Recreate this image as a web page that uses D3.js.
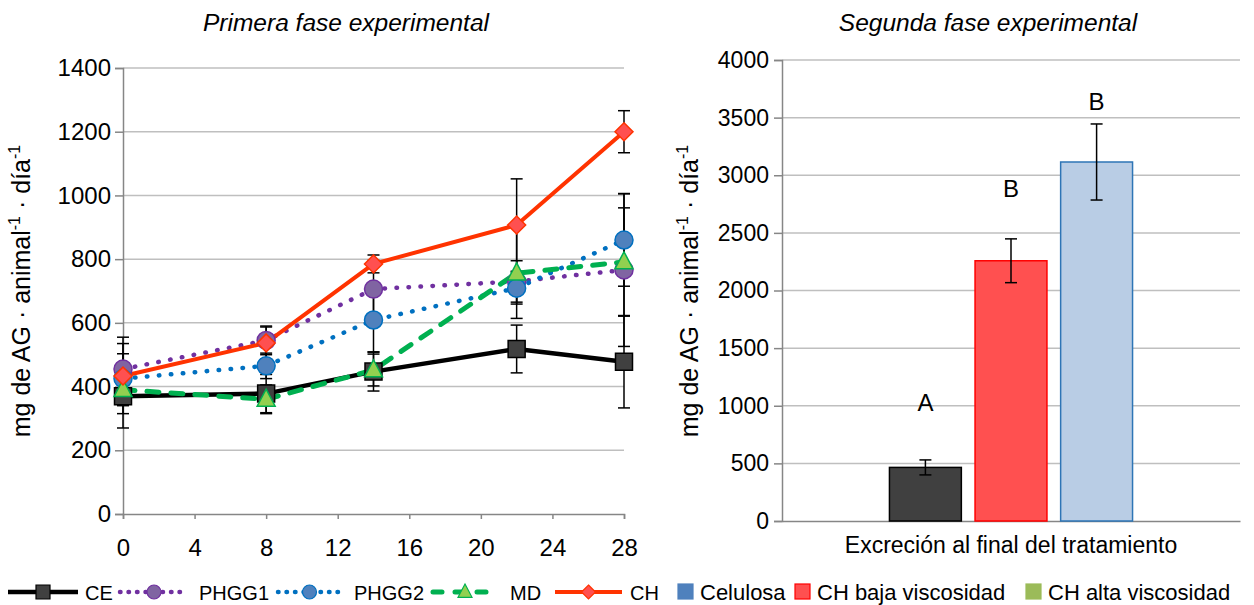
<!DOCTYPE html>
<html><head><meta charset="utf-8">
<script src="https://cdn.jsdelivr.net/npm/d3@7"></script>
<style>body{margin:0;background:#fff} svg{font-family:"Liberation Sans",Arial,sans-serif;display:block}</style>
</head><body><svg id="c" width="1254" height="605"></svg>
<script>
// ---------- data ----------
const days = [0, 8, 14, 22, 28];
const seriesNames = ["CE", "PHGG1", "PHGG2", "MD", "CH"];
const ceValues    = [370, 378, 447, 518, 478];
const ceErrors    = [100, 60, 61, 75, 145];
const phgg1Values = [455, 545, 706, 730, 766];
const phgg1Errors = [100, 45, 90, 65, 240];
const phgg2Values = [425, 465, 609, 709, 860];
const phgg2Errors = [110, 40, 100, 50, 145];
const mdValues    = [390, 360, 452, 756, 791];
const mdErrors    = [50, 45, 50, 142, 170];
const chValues    = [433, 537, 785, 907, 1200];
const chErrors    = [70, 50, 28, 145, 66];
const xTicksLeft  = [0, 4, 8, 12, 16, 20, 24, 28];
const yTicksLeft  = [0, 200, 400, 600, 800, 1000, 1200, 1400];

const barCategory = ["Excreción al final del tratamiento"];
const barNames    = ["Celulosa", "CH baja viscosidad", "CH alta viscosidad"];
const barValues   = [465, 2258, 3115];
const barErrors   = [65, 190, 330];
const barLetters  = ["A", "B", "B"];
const letterLevel = [1032, 2889, 3644];
const yTicksRight = [0, 500, 1000, 1500, 2000, 2500, 3000, 3500, 4000];

// ---------- styles ----------
const lineStyles = {
  CE:    {stroke: "#000000", width: 4.5, dash: null, legDash: null, cap: "butt", mFill: "#404040", mStroke: "#000000", shape: "square"},
  PHGG1: {stroke: "#7030A0", width: 4.5, dash: "0.5 11.5", legDash: "0.5 8", cap: "round", mFill: "#8064A2", mStroke: "#7030A0", shape: "circle"},
  PHGG2: {stroke: "#0070C0", width: 4.5, dash: "0.5 11.5", legDash: "0.5 8", cap: "round", mFill: "#4F81BD", mStroke: "#0070C0", shape: "circle"},
  MD:    {stroke: "#00B050", width: 5,   dash: "12 12", legDash: "9 13", cap: "round", mFill: "#92D050", mStroke: "#00B050", shape: "triangle"},
  CH:    {stroke: "#FF3300", width: 4,   dash: null, legDash: null, cap: "butt", mFill: "#FF5050", mStroke: "#FF3300", shape: "diamond"}
};
const barFill   = ["#404040", "#FF5050", "#B9CDE5"];
const barStroke = ["#000000", "#FF0000", "#2E75B6"];
const barLegendFill   = ["#4F81BD", "#FF5050", "#9BBB59"];
const barLegendStroke = ["#4F81BD", "#FF0000", "#9BBB59"];

const series = [
  {name: "CE", values: ceValues, errors: ceErrors},
  {name: "PHGG1", values: phgg1Values, errors: phgg1Errors},
  {name: "PHGG2", values: phgg2Values, errors: phgg2Errors},
  {name: "MD", values: mdValues, errors: mdErrors},
  {name: "CH", values: chValues, errors: chErrors}
];

const svg = d3.select("#c");
const gridColor = "#BFBFBF", axisColor = "#868686";
const fmt = d3.format("d");

function markerPath(shape, s) {
  if (shape === "square") return d3.symbol(d3.symbolSquare, s * s)();
  if (shape === "circle") return d3.symbol(d3.symbolCircle, Math.PI * (s / 2) * (s / 2))();
  if (shape === "triangle") { const h = s * 0.95, w = s; return `M0,${-h*0.6}L${w/2},${h*0.4}L${-w/2},${h*0.4}Z`; }
  if (shape === "diamond") { const r = s / 2; return `M0,${-r}L${r},0L0,${r}L${-r},0Z`; }
}

// ---------- left chart ----------
const L = {x0: 123, x1: 624, y0: 514, y1: 68};
const xL = d3.scaleLinear().domain([0, 28]).range([L.x0, L.x1]);
const yL = d3.scaleLinear().domain([0, 1400]).range([L.y0, L.y1]);

const gL = svg.append("g");
gL.append("g").selectAll("line").data(yTicksLeft.filter(d => d > 0)).join("line")
  .attr("x1", L.x0).attr("x2", L.x1).attr("y1", d => yL(d)).attr("y2", d => yL(d))
  .attr("stroke", gridColor).attr("stroke-width", 1.5);

const axYL = gL.append("g").attr("transform", `translate(${L.x0},0)`)
  .call(d3.axisLeft(yL).tickValues(yTicksLeft).tickFormat(fmt).tickSize(8).tickPadding(4));
const axXL = gL.append("g").attr("transform", `translate(0,${L.y0})`)
  .call(d3.axisBottom(xL).tickValues(xTicksLeft).tickFormat(fmt).tickSize(5).tickPadding(20));
[axYL, axXL].forEach(a => {
  a.select(".domain").attr("stroke", axisColor).attr("stroke-width", 1.5);
  a.selectAll(".tick line").attr("stroke", axisColor).attr("stroke-width", 1.5);
  a.selectAll("text").attr("font-size", 24).attr("fill", "#000").attr("font-family", "Liberation Sans, Arial, sans-serif");
});

// error bars
const gErr = gL.append("g");
series.forEach(s => {
  s.values.forEach((v, i) => {
    const x = xL(days[i]), e = s.errors[i];
    gErr.append("line").attr("x1", x).attr("x2", x).attr("y1", yL(v - e)).attr("y2", yL(v + e))
      .attr("stroke", "#000").attr("stroke-width", 1.5);
    [v - e, v + e].forEach(t => gErr.append("line").attr("x1", x - 6).attr("x2", x + 6)
      .attr("y1", yL(t)).attr("y2", yL(t)).attr("stroke", "#000").attr("stroke-width", 1.5));
  });
});

const line = d3.line().x((d, i) => xL(days[i])).y(d => yL(d));
series.forEach(s => {
  const st = lineStyles[s.name];
  gL.append("path").attr("d", line(s.values)).attr("fill", "none")
    .attr("stroke", st.stroke).attr("stroke-width", st.width)
    .attr("stroke-dasharray", st.dash).attr("stroke-linecap", st.cap).attr("stroke-linejoin", "round");
});
series.forEach(s => {
  const st = lineStyles[s.name];
  gL.append("g").selectAll("path").data(s.values).join("path")
    .attr("transform", (d, i) => `translate(${xL(days[i])},${yL(d)})`)
    .attr("d", markerPath(st.shape, st.shape === "square" ? 17 : 18))
    .attr("fill", st.mFill).attr("stroke", st.mStroke).attr("stroke-width", 1.5);
});

gL.append("text").attr("x", 346).attr("y", 31).attr("text-anchor", "middle")
  .attr("font-size", 24.5).attr("font-style", "italic").text("Primera fase experimental");

function yTitle(g, x, y) {
  const t = g.append("text").attr("transform", `translate(${x},${y}) rotate(-90)`)
    .attr("text-anchor", "middle").attr("font-size", 25);
  t.append("tspan").text("mg de AG · animal");
  t.append("tspan").attr("font-size", 16).attr("dy", -10).text("-1");
  t.append("tspan").attr("dy", 10).text(" · día");
  t.append("tspan").attr("font-size", 16).attr("dy", -10).text("-1");
}
yTitle(gL, 30, 291);

// ---------- right chart ----------
const R = {x0: 782, x1: 1240, y0: 521, y1: 60};
const yR = d3.scaleLinear().domain([0, 4000]).range([R.y0, R.y1]);
const x0R = d3.scaleBand().domain(barCategory).range([R.x0, R.x1]).paddingInner(0).paddingOuter(0.442);
const x1R = d3.scaleBand().domain(barNames).range([0, x0R.bandwidth()]).paddingInner(0.16).paddingOuter(0);

const gR = svg.append("g");
gR.append("g").selectAll("line").data(yTicksRight.filter(d => d > 0)).join("line")
  .attr("x1", R.x0).attr("x2", R.x1).attr("y1", d => yR(d)).attr("y2", d => yR(d))
  .attr("stroke", gridColor).attr("stroke-width", 1.5);
const axYR = gR.append("g").attr("transform", `translate(${R.x0},0)`)
  .call(d3.axisLeft(yR).tickValues(yTicksRight).tickFormat(fmt).tickSize(8).tickPadding(5));
const axXR = gR.append("g").attr("transform", `translate(0,${R.y0})`)
  .call(d3.axisBottom(x0R).tickSize(0).tickPadding(16));
[axYR, axXR].forEach(a => {
  a.select(".domain").attr("stroke", axisColor).attr("stroke-width", 1.5);
  a.selectAll(".tick line").attr("stroke", axisColor).attr("stroke-width", 1.5);
  a.selectAll("text").attr("font-size", 23).attr("fill", "#000").attr("font-family", "Liberation Sans, Arial, sans-serif");
});

const gBars = gR.append("g").attr("transform", `translate(${x0R(barCategory[0])},0)`);
barNames.forEach((n, i) => {
  const x = x1R(n), w = x1R.bandwidth(), v = barValues[i], e = barErrors[i], cx = x + w / 2;
  gBars.append("rect").attr("x", x).attr("y", yR(v)).attr("width", w).attr("height", yR(0) - yR(v))
    .attr("fill", barFill[i]).attr("stroke", barStroke[i]).attr("stroke-width", 1.5);
  gBars.append("line").attr("x1", cx).attr("x2", cx).attr("y1", yR(v - e)).attr("y2", yR(v + e))
    .attr("stroke", "#000").attr("stroke-width", 1.5);
  [v - e, v + e].forEach(t => gBars.append("line").attr("x1", cx - 6).attr("x2", cx + 6)
    .attr("y1", yR(t)).attr("y2", yR(t)).attr("stroke", "#000").attr("stroke-width", 1.5));
  gBars.append("text").attr("x", cx).attr("y", yR(letterLevel[i]) + 9).attr("text-anchor", "middle")
    .attr("font-size", 24).text(barLetters[i]);
});

gR.append("text").attr("x", 988).attr("y", 31).attr("text-anchor", "middle")
  .attr("font-size", 24.5).attr("font-style", "italic").text("Segunda fase experimental");
yTitle(gR, 698, 291);

// ---------- legend ----------
const lg = svg.append("g").attr("font-size", 22);
const legY = 592;
const lineLegend = [
  {name: "CE", x1: 8, x2: 78, tx: 85},
  {name: "PHGG1", x1: 120, x2: 188, tx: 199},
  {name: "PHGG2", x1: 278, x2: 341, tx: 354},
  {name: "MD", x1: 433, x2: 497, tx: 510},
  {name: "CH", x1: 555, x2: 622, tx: 630}
];
lineLegend.forEach(it => {
  const st = lineStyles[it.name];
  lg.append("line").attr("x1", it.x1).attr("x2", it.x2).attr("y1", legY).attr("y2", legY)
    .attr("stroke", st.stroke).attr("stroke-width", st.width)
    .attr("stroke-dasharray", st.legDash).attr("stroke-linecap", st.cap);
  lg.append("path").attr("transform", `translate(${(it.x1 + it.x2) / 2},${legY})`)
    .attr("d", markerPath(st.shape, 14))
    .attr("fill", st.mFill).attr("stroke", st.mStroke).attr("stroke-width", 1.2);
  lg.append("text").attr("x", it.tx).attr("y", legY + 8).attr("font-size", 20).text(it.name);
});
const barLegX = [678, 795, 1026];
barNames.forEach((n, i) => {
  lg.append("rect").attr("x", barLegX[i]).attr("y", legY - 8).attr("width", 15).attr("height", 15)
    .attr("fill", barLegendFill[i]).attr("stroke", barLegendStroke[i]).attr("stroke-width", 1.2);
  lg.append("text").attr("x", barLegX[i] + 22).attr("y", legY + 8).text(n);
});
</script></body></html>
